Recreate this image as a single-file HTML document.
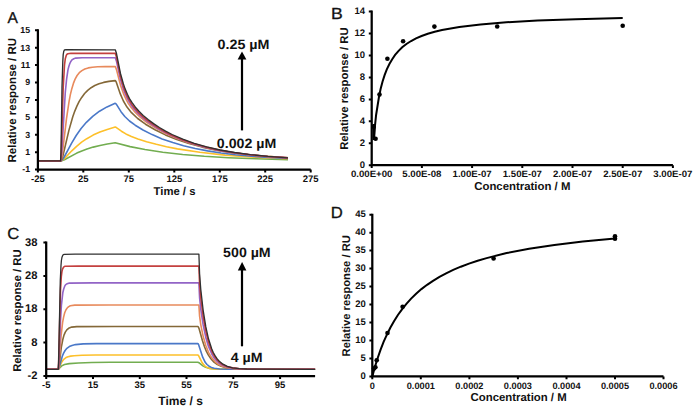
<!DOCTYPE html><html><head><meta charset="utf-8"><style>html,body{margin:0;padding:0;background:#fff;width:700px;height:411px;overflow:hidden}svg{display:block}text{text-rendering:geometricPrecision;font-family:"Liberation Sans",sans-serif;font-weight:bold;fill:#111}</style></head><body>
<svg width="700" height="411" viewBox="0 0 700 411">
<text transform="translate(7.4,23.1)" font-size="15.6" style="font-weight:normal" stroke="#111" stroke-width="0.3">A</text>
<path d="M37.9,160.9 61.7,160.8 64.4,159.7 76.8,153.1 81.8,150.9 87,149 93.2,147.1 100,145.5 107.3,144 115.2,142.8 130.1,146.6 145,149.5 162.8,152.2 182.7,154.5 204.3,156.3 228.5,157.7 256,158.8 288,159.6" stroke="#72AD50" stroke-width="1.6" fill="none" stroke-linejoin="round"/>
<path d="M37.9,160.9 60.6,160.9 61.7,160.6 64.4,158.6 71.8,150.8 76.6,146.3 81.6,142.2 86.8,138.7 93.1,135.1 99.9,132 107.2,129.4 115.2,127.1 116.4,127.6 121.4,131.2 125.9,133.9 131.4,136.4 137.9,138.9 146.6,141.7 156.3,144.3 166.5,146.7 177.4,148.9 199.8,152.3 225,155.1 254,157.1 288,158.7" stroke="#FDC02A" stroke-width="1.6" fill="none" stroke-linejoin="round"/>
<path d="M37.9,160.9 60.6,160.9 61.6,160.5 62.8,159.2 64.2,157 71.5,143.4 76.2,135.5 81.1,128.5 86.4,122.3 92.7,116.4 99.5,111.2 107,106.9 115.2,103.3 116.3,104.2 121,111.7 124.8,116.5 129.5,121 135.2,125.2 143,130 152.1,134.6 162.1,138.9 172.8,142.6 183.6,145.7 195.2,148.5 207.6,150.9 221,153 235.4,154.8 251.2,156.2 268.7,157.5 288,158.4" stroke="#4A78C8" stroke-width="1.6" fill="none" stroke-linejoin="round"/>
<path d="M37.9,160.9 60.6,160.9 61,160.7 62,159 63,155.5 68.9,130.4 72.7,117 74.8,111.1 77,105.9 79.2,101.4 81.7,97.4 84.6,93.5 87.7,90.4 91.1,87.7 94.8,85.5 99,83.8 103.6,82.4 108.9,81.4 115.2,80.6 115.7,81.1 116.3,82.2 120.3,93.9 123.4,101 127,107.1 131.5,112.7 137.7,118.5 145.5,124.2 155,129.8 165.4,134.9 176.8,139.6 189,143.6 202.1,147.1 216.3,150.1 231.6,152.6 248.5,154.7 267.1,156.4 288,157.7" stroke="#846838" stroke-width="1.6" fill="none" stroke-linejoin="round"/>
<path d="M37.9,160.9 60.6,160.9 60.9,160.7 61.6,158.3 62.4,153.3 66.5,118.6 69,101.9 70.4,94.4 71.9,88.4 73.4,83.4 75.1,79.1 77.1,75.5 79.3,72.7 81.9,70.6 84.8,69 88.2,67.9 92.3,67.2 97.7,66.8 105.3,66.6 115.2,66.6 115.5,66.9 116.6,70 120.6,85.5 123.9,94.7 126.1,99.4 128.4,103.6 131.2,107.6 134.1,111.1 139.9,116.9 147,122.5 155.4,127.9 164.6,133 175.9,138.1 188.1,142.5 201.2,146.3 215.4,149.6 230.9,152.3 247.8,154.5 266.7,156.4 288,157.8" stroke="#E88A5C" stroke-width="1.6" fill="none" stroke-linejoin="round"/>
<path d="M37.9,160.9 60.6,160.9 60.8,160.6 61.3,156.9 61.9,149.9 65.3,92.3 66.6,79.1 68,69.6 68.9,66.2 69.9,63.3 71,61.2 72.3,59.6 73.8,58.7 75.7,58.1 82.1,57.7 115.3,57.8 116.4,60.9 120.4,79.1 123.2,88.4 125,93.3 127,97.8 129.2,101.8 131.5,105.5 134.4,109.3 137.9,113.2 141.9,117 146.3,120.6 151.2,124.2 156.6,127.7 162.5,131.1 168.7,134.3 179.6,139.1 191.4,143.3 204.1,147 218,150.1 232.9,152.7 249.2,154.8 267.4,156.5 288,157.9" stroke="#9264C6" stroke-width="1.6" fill="none" stroke-linejoin="round"/>
<path d="M37.9,160.9 60.6,160.9 60.7,160.7 61.4,147.3 63.2,87.6 64.5,65 65.3,58.7 66.4,55.1 67,54.2 67.9,53.7 70.9,53.3 115.3,53.4 116.4,56.8 120.4,76.1 123.2,85.9 125,91 127.2,96.1 129.4,100.3 131.9,104.4 135,108.5 138.6,112.6 142.8,116.6 147.4,120.4 152.6,124.2 158.3,127.9 164.5,131.5 170.8,134.7 181.6,139.4 193.2,143.5 205.8,147.1 219.2,150.1 234,152.7 250,154.8 267.8,156.5 288,157.9" stroke="#C4403F" stroke-width="1.6" fill="none" stroke-linejoin="round"/>
<path d="M37.9,160.9 60.6,160.9 61,152.7 62,87.5 62.8,61.5 63.2,54.6 63.8,51.2 64.5,49.9 66,49.7 115.3,49.8 116.4,53.2 120.4,73.2 123.4,83.9 125.2,89.1 127.4,94.3 129.5,98.6 132.1,102.7 135.4,107.2 139,111.3 143.2,115.4 148.1,119.6 153.6,123.6 159.4,127.5 165.6,131.1 172.1,134.5 182.8,139.2 194.3,143.3 206.7,146.9 220.1,150 234.7,152.5 250.5,154.6 268.2,156.4 288,157.8" stroke="#303030" stroke-width="1.35" fill="none" stroke-linejoin="round"/>
<path d="M37.9,29.2V169.6H310.7" stroke="#000" stroke-width="2.25" fill="none"/>
<text transform="translate(30.1,172.4)" font-size="8.8" text-anchor="end">-1</text>
<text transform="translate(30.1,155)" font-size="8.8" text-anchor="end">1</text>
<text transform="translate(30.1,137.6)" font-size="8.8" text-anchor="end">3</text>
<text transform="translate(30.1,120.1)" font-size="8.8" text-anchor="end">5</text>
<text transform="translate(30.1,102.7)" font-size="8.8" text-anchor="end">7</text>
<text transform="translate(30.1,85.3)" font-size="8.8" text-anchor="end">9</text>
<text transform="translate(30.1,67.9)" font-size="8.8" text-anchor="end">11</text>
<text transform="translate(30.1,50.5)" font-size="8.8" text-anchor="end">13</text>
<text transform="translate(30.1,33)" font-size="8.8" text-anchor="end">15</text>
<text transform="translate(37.9,181.6)" font-size="9.5" text-anchor="middle">-25</text>
<text transform="translate(83.3,181.6)" font-size="9.5" text-anchor="middle">25</text>
<text transform="translate(128.8,181.6)" font-size="9.5" text-anchor="middle">75</text>
<text transform="translate(174.3,181.6)" font-size="9.5" text-anchor="middle">125</text>
<text transform="translate(219.8,181.6)" font-size="9.5" text-anchor="middle">175</text>
<text transform="translate(265.2,181.6)" font-size="9.5" text-anchor="middle">225</text>
<text transform="translate(310.7,181.6)" font-size="9.5" text-anchor="middle">275</text>
<path d="M35,169.6h2.9M35,152.2h2.9M35,134.8h2.9M35,117.3h2.9M35,99.9h2.9M35,82.5h2.9M35,65.1h2.9M35,47.7h2.9M35,30.2h2.9M37.9,169.6v2.9M83.3,169.6v2.9M128.8,169.6v2.9M174.3,169.6v2.9M219.8,169.6v2.9M265.2,169.6v2.9M310.7,169.6v2.9" stroke="#000" stroke-width="2"/>
<text transform="translate(174.5,194.6)" font-size="11.3" text-anchor="middle">Time / s</text>
<text transform="translate(15.9,100.2) rotate(-90)" font-size="11.5" text-anchor="middle">Relative response / RU</text>
<path d="M242,130.4V58" stroke="#000" stroke-width="2.2"/>
<path d="M237.6,59.6 L242,51.4 L246.4,59.6 Z" fill="#000"/>
<text transform="translate(243.5,48.6) scale(1.06,1)" font-size="13.5" text-anchor="middle">0.25 µM</text>
<text transform="translate(246.5,147.5) scale(1.05,1)" font-size="13.5" text-anchor="middle">0.002 µM</text>
<text transform="translate(7.2,238.9) scale(1.04,1)" font-size="16" style="font-weight:normal" stroke="#111" stroke-width="0.3">C</text>
<path d="M46.2,369.3 58.4,369.3 61.7,365.9 64.5,364.5 69.3,363.6 78.5,363 91.7,362.5 110.2,362.3 197.8,362.2 198.9,362.7 202.9,365.9 205.7,367.3 209.8,368.4 215.4,369 230.7,369.3 315.1,369.3" stroke="#72AD50" stroke-width="1.6" fill="none" stroke-linejoin="round"/>
<path d="M46.2,369.3 58.4,369.3 59.1,368.2 61.8,362 63,360.3 64.4,358.8 66,357.6 68.1,356.7 70.7,356.1 74.1,355.7 82.1,355.2 95.7,355 197.8,355 198.2,355.3 198.8,356.1 202.2,362.8 204.4,365.6 206.1,366.9 207.8,367.7 209.9,368.4 212.5,368.8 217.3,369.2 225.2,369.3 315.1,369.3" stroke="#FDC02A" stroke-width="1.6" fill="none" stroke-linejoin="round"/>
<path d="M46.2,369.3 58.4,369.3 59.1,367.7 62.3,356.3 63.6,353.1 65.1,350.5 66.9,348.3 69.3,346.6 72,345.5 75.5,344.6 83.2,343.9 96.3,343.6 197.8,343.5 198.2,343.9 198.8,345.2 202.7,357.2 205.2,362.3 207,364.5 209.1,366.2 211.4,367.4 214.2,368.3 219.7,369 228.6,369.3 315.1,369.3" stroke="#4A78C8" stroke-width="1.6" fill="none" stroke-linejoin="round"/>
<path d="M46.2,369.3 58.4,369.2 59.1,365.6 61.3,347.4 63,338.7 64,335.1 65.3,332.1 66.8,329.9 68.6,328.3 71.7,327.1 76.8,326.6 114.3,326.5 197.9,326.5 198.5,327.2 199.2,329 202.4,340.5 204.4,346.5 206.3,351.1 208.4,355.1 211.1,359 214,362.1 217.4,364.5 221.2,366.3 225,367.4 229.4,368.2 234.7,368.7 241.5,369 259.7,369.3 315.1,369.3" stroke="#846838" stroke-width="1.6" fill="none" stroke-linejoin="round"/>
<path d="M46.2,369.3 58.3,369.3 58.4,369.1 59,364.3 61.1,335.7 62.6,322.3 63.6,317.1 64.7,312.7 66,309.7 67.5,307.6 68.8,306.6 70.3,305.8 74.8,305.1 109,305 198.9,305 199.6,316.1 200.8,324.8 203.1,336.1 205.8,345.5 208.5,352.3 211.7,357.8 215.2,361.8 217.2,363.5 219.3,364.8 223,366.5 227.3,367.6 232.6,368.4 239.3,368.9 257.4,369.3 315.1,369.3" stroke="#E88A5C" stroke-width="1.6" fill="none" stroke-linejoin="round"/>
<path d="M46.2,369.3 58.3,369.3 58.4,368.9 58.9,361.9 60.5,320.9 61.4,305.4 62.8,292.8 63.7,289 64.7,286.2 65.5,284.9 66.6,284 67.8,283.5 69.4,283.1 92,282.9 198.9,282.9 199.6,297.9 200.8,309.5 203.1,324.7 205.8,337.4 208.5,346.4 211.7,353.8 213.3,356.7 215.2,359.3 217.2,361.5 219.3,363.3 223,365.5 227.3,367.1 232.6,368.1 239.3,368.8 257.4,369.2 315.1,369.3" stroke="#9264C6" stroke-width="1.6" fill="none" stroke-linejoin="round"/>
<path d="M46.2,369.3 58.3,369.3 58.6,363.1 60.5,289.9 61.3,276.6 61.9,271.8 62.5,269.2 63.6,267.1 64.3,266.6 65.2,266.3 78.2,266.1 198.9,266.1 199.6,284 200.8,297.9 203.1,316 205.8,331.1 208.5,342 211.7,350.8 213.3,354.2 215.2,357.3 217.2,360 219.3,362.1 223,364.8 227.3,366.7 232.6,367.9 239.3,368.7 257.4,369.2 315.1,369.3" stroke="#C4403F" stroke-width="1.6" fill="none" stroke-linejoin="round"/>
<path d="M46.2,369.3 58.3,369.3 58.6,361 60.3,280 61,265.5 61.4,260.5 62,257.2 62.8,255.2 63.4,254.6 64.3,254.3 75.1,254.1 198.9,254.1 199.6,274.1 200.8,289.6 203.1,309.8 205.8,326.7 208.5,338.8 211.7,348.7 213.3,352.5 215.2,355.9 217.2,358.9 219.3,361.3 223,364.2 227.3,366.3 232.6,367.8 239.3,368.6 246.7,369 257.4,369.2 315.1,369.3" stroke="#303030" stroke-width="1.3" fill="none" stroke-linejoin="round"/>
<path d="M46.2,241.6V376H315.1" stroke="#000" stroke-width="2.25" fill="none"/>
<text transform="translate(37.4,379)" font-size="11.2" text-anchor="end">-2</text>
<text transform="translate(37.4,345.6)" font-size="11.2" text-anchor="end">8</text>
<text transform="translate(37.4,312.3)" font-size="11.2" text-anchor="end">18</text>
<text transform="translate(37.4,278.9)" font-size="11.2" text-anchor="end">28</text>
<text transform="translate(37.4,245.6)" font-size="11.2" text-anchor="end">38</text>
<text transform="translate(46.2,388.2)" font-size="9.5" text-anchor="middle">-5</text>
<text transform="translate(93,388.2)" font-size="9.5" text-anchor="middle">15</text>
<text transform="translate(139.8,388.2)" font-size="9.5" text-anchor="middle">35</text>
<text transform="translate(186.5,388.2)" font-size="9.5" text-anchor="middle">55</text>
<text transform="translate(233.3,388.2)" font-size="9.5" text-anchor="middle">75</text>
<text transform="translate(280.1,388.2)" font-size="9.5" text-anchor="middle">95</text>
<path d="M43.4,376h2.9M43.4,342.6h2.9M43.4,309.3h2.9M43.4,275.9h2.9M43.4,242.6h2.9M46.2,376v2.9M93,376v2.9M139.8,376v2.9M186.5,376v2.9M233.3,376v2.9M280.1,376v2.9" stroke="#000" stroke-width="2"/>
<text transform="translate(180.6,405)" font-size="12" text-anchor="middle">Time / s</text>
<text transform="translate(21,310.6) rotate(-90)" font-size="11.3" text-anchor="middle">Relative response / RU</text>
<path d="M242,346.3V269" stroke="#000" stroke-width="2.2"/>
<path d="M237.8,270.4 L242.1,262 L246.4,270.4 Z" fill="#000"/>
<text transform="translate(246.9,256.7) scale(1.05,1)" font-size="13.5" text-anchor="middle">500 µM</text>
<text transform="translate(246.6,362.4) scale(1.05,1)" font-size="13.5" text-anchor="middle">4 µM</text>
<text transform="translate(331.1,18.7) scale(1.1,1)" font-size="16" style="font-weight:normal" stroke="#111" stroke-width="0.3">B</text>
<path d="M371.7,10.6V165.2H672.9" stroke="#000" stroke-width="2.25" fill="none"/>
<text transform="translate(365,167.7)" font-size="9.5" text-anchor="end">0</text>
<text transform="translate(365,145.8)" font-size="9.5" text-anchor="end">2</text>
<text transform="translate(365,123.8)" font-size="9.5" text-anchor="end">4</text>
<text transform="translate(365,101.9)" font-size="9.5" text-anchor="end">6</text>
<text transform="translate(365,79.9)" font-size="9.5" text-anchor="end">8</text>
<text transform="translate(365,58)" font-size="9.5" text-anchor="end">10</text>
<text transform="translate(365,36.1)" font-size="9.5" text-anchor="end">12</text>
<text transform="translate(365,14.1)" font-size="9.5" text-anchor="end">14</text>
<text transform="translate(371.7,177.1) scale(1.05,1)" font-size="9.2" text-anchor="middle">0.00E+00</text>
<text transform="translate(421.9,177.1) scale(1.05,1)" font-size="9.2" text-anchor="middle">5.00E-08</text>
<text transform="translate(472.1,177.1) scale(1.05,1)" font-size="9.2" text-anchor="middle">1.00E-07</text>
<text transform="translate(522.3,177.1) scale(1.05,1)" font-size="9.2" text-anchor="middle">1.50E-07</text>
<text transform="translate(572.5,177.1) scale(1.05,1)" font-size="9.2" text-anchor="middle">2.00E-07</text>
<text transform="translate(622.7,177.1) scale(1.05,1)" font-size="9.2" text-anchor="middle">2.50E-07</text>
<text transform="translate(672.9,177.1) scale(1.05,1)" font-size="9.2" text-anchor="middle">3.00E-07</text>
<path d="M368.8,165.2h2.9M368.8,143.3h2.9M368.8,121.3h2.9M368.8,99.4h2.9M368.8,77.4h2.9M368.8,55.5h2.9M368.8,33.6h2.9M368.8,11.6h2.9M371.7,165.2v2.9M421.9,165.2v2.9M472.1,165.2v2.9M522.3,165.2v2.9M572.5,165.2v2.9M622.7,165.2v2.9M672.9,165.2v2.9" stroke="#000" stroke-width="2"/>
<text transform="translate(522.3,189.7)" font-size="11.4" text-anchor="middle">Concentration / M</text>
<text transform="translate(348,88.6) rotate(-90)" font-size="11.3" text-anchor="middle">Relative response / RU</text>
<path d="M373.7,137.8 376.1,115 379,96.8 380.6,89 382.5,81.7 384.6,75.1 386.8,69.4 389.4,64 392.2,59.2 395.1,54.9 398.6,50.9 402.2,47.3 406.4,44 411.1,41 416,38.4 421.6,36 427.8,33.8 434.7,31.8 442,30 459.3,26.9 480.5,24.4 506.4,22.3 537.6,20.6 575.9,19.2 622.7,18.1" stroke="#000" stroke-width="2" fill="none"/>
<circle cx="373.7" cy="126.8" r="2.3"/>
<circle cx="375.6" cy="138.7" r="2.3"/>
<circle cx="379.5" cy="94.6" r="2.3"/>
<circle cx="387.4" cy="58.7" r="2.3"/>
<circle cx="403.1" cy="41.3" r="2.3"/>
<circle cx="434.4" cy="26.6" r="2.3"/>
<circle cx="497.2" cy="26.5" r="2.3"/>
<circle cx="622.7" cy="25.7" r="2.3"/>
<path d="M372.5,124 L375.6,124 L375.2,140 L372.5,140 Z"/>
<text transform="translate(330.8,218.4) scale(1.04,1)" font-size="16" style="font-weight:normal" stroke="#111" stroke-width="0.3">D</text>
<path d="M372.3,213.7V376.4H663.5" stroke="#000" stroke-width="2.25" fill="none"/>
<text transform="translate(365.8,378.7)" font-size="9.5" text-anchor="end">0</text>
<text transform="translate(365.8,360.7)" font-size="9.5" text-anchor="end">5</text>
<text transform="translate(365.8,342.8)" font-size="9.5" text-anchor="end">10</text>
<text transform="translate(365.8,324.8)" font-size="9.5" text-anchor="end">15</text>
<text transform="translate(365.8,306.8)" font-size="9.5" text-anchor="end">20</text>
<text transform="translate(365.8,288.9)" font-size="9.5" text-anchor="end">25</text>
<text transform="translate(365.8,270.9)" font-size="9.5" text-anchor="end">30</text>
<text transform="translate(365.8,252.9)" font-size="9.5" text-anchor="end">35</text>
<text transform="translate(365.8,235)" font-size="9.5" text-anchor="end">40</text>
<text transform="translate(365.8,217)" font-size="9.5" text-anchor="end">45</text>
<text transform="translate(372.3,388.8)" font-size="9.2" text-anchor="middle">0</text>
<text transform="translate(420.8,388.8)" font-size="9.2" text-anchor="middle">0.0001</text>
<text transform="translate(469.4,388.8)" font-size="9.2" text-anchor="middle">0.0002</text>
<text transform="translate(517.9,388.8)" font-size="9.2" text-anchor="middle">0.0003</text>
<text transform="translate(566.5,388.8)" font-size="9.2" text-anchor="middle">0.0004</text>
<text transform="translate(615,388.8)" font-size="9.2" text-anchor="middle">0.0005</text>
<text transform="translate(663.5,388.8)" font-size="9.2" text-anchor="middle">0.0006</text>
<path d="M369.4,376.4h2.9M369.4,358.4h2.9M369.4,340.5h2.9M369.4,322.5h2.9M369.4,304.5h2.9M369.4,286.6h2.9M369.4,268.6h2.9M369.4,250.6h2.9M369.4,232.7h2.9M369.4,214.7h2.9M372.3,376.4v2.9M420.8,376.4v2.9M469.4,376.4v2.9M517.9,376.4v2.9M566.5,376.4v2.9M615,376.4v2.9M663.5,376.4v2.9" stroke="#000" stroke-width="2"/>
<text transform="translate(518.6,401.4)" font-size="11.4" text-anchor="middle">Concentration / M</text>
<text transform="translate(350.4,295.8) rotate(-90)" font-size="11.2" text-anchor="middle">Relative response / RU</text>
<path d="M372.3,376.4 374.9,366.9 377.7,358 380.6,349.7 383.6,341.9 386.9,334.7 390.3,327.8 394,321.3 397.9,315 402,309.3 406.4,303.8 411.1,298.6 416.1,293.7 421.4,289.1 427.1,284.8 433,280.8 439.5,276.8 446.1,273.3 453.2,269.9 460.8,266.7 469,263.6 477.6,260.7 486.6,258.1 506.6,253.1 529.1,248.8 554.4,244.9 582.8,241.5 615,238.5" stroke="#000" stroke-width="2" fill="none"/>
<circle cx="376.7" cy="360.3" r="2.3"/>
<circle cx="375.4" cy="367.3" r="2.3"/>
<circle cx="374" cy="368.5" r="2.3"/>
<circle cx="387.5" cy="333" r="2.3"/>
<circle cx="402.6" cy="306.7" r="2.3"/>
<circle cx="493.6" cy="258.5" r="2.3"/>
<circle cx="615" cy="236.3" r="2.3"/>
<circle cx="615" cy="238.8" r="2.3"/>
</svg></body></html>
